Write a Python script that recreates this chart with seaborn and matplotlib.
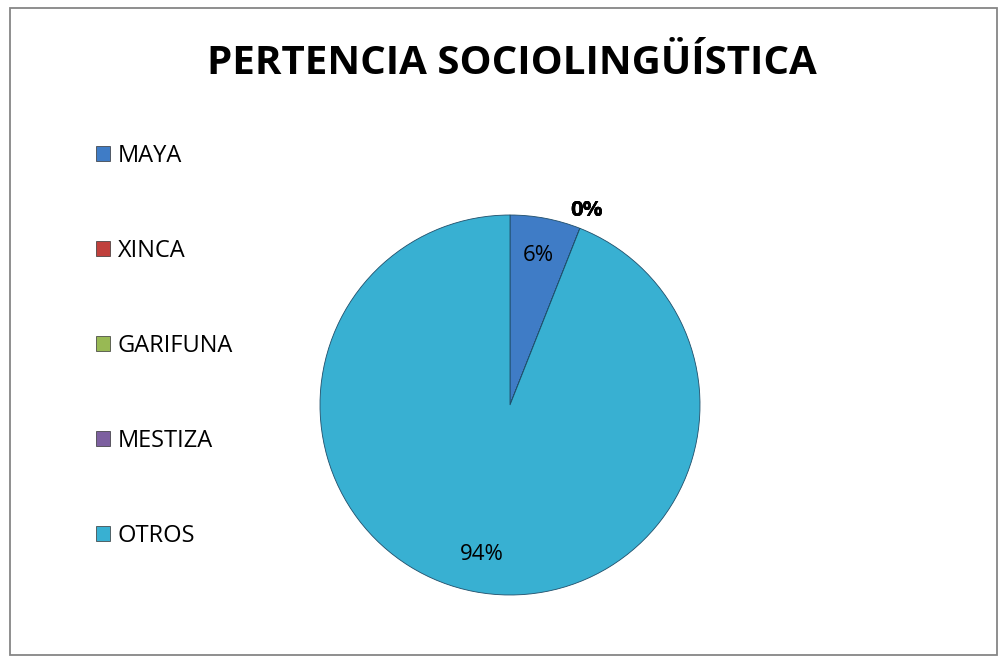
import numpy as np
import matplotlib
matplotlib.use("Agg")
import matplotlib.pyplot as plt
import seaborn as sns
from matplotlib.patches import Rectangle

# datos
categorias = ["MAYA", "XINCA", "GARIFUNA", "MESTIZA", "OTROS"]
valores = [6, 0, 0, 0, 94]
colores = ["#3F7CC6", "#C0403C", "#98B954", "#7D60A0", "#38B0D2"]
titulo = "PERTENCIA SOCIOLINGÜÍSTICA"

sns.set_theme(style="white")
plt.rcParams['font.family'] = ['Open Sans', 'DejaVu Sans']
plt.rcParams['text.color'] = 'black'

fig = plt.figure(figsize=(10.02, 6.59), dpi=100)
fig.patch.set_facecolor("white")

# marco del grafico
fig.add_artist(Rectangle((10 / 1002, 4 / 659), 987 / 1002, 647 / 659,
                         transform=fig.transFigure, fill=False,
                         edgecolor="#868686", linewidth=1.3))

fig.text(512 / 1002, 1 - 63 / 659, titulo, ha="center", va="center",
         fontsize=29, fontweight="bold", color="black")

# pie: centro (510, 405), radio 190 px
r = 190
ax = fig.add_axes([(510 - r) / 1002, 1 - (405 + r) / 659, 2 * r / 1002, 2 * r / 659])
wedges, textos, autotextos = ax.pie(
    valores, colors=colores, startangle=90, counterclock=False,
    autopct=lambda p: f"{p:.0f}%", pctdistance=0.8,
    wedgeprops=dict(edgecolor="#1f4e6a", linewidth=0.6),
    textprops=dict(fontsize=16, color="black"))
ax.set_xlim(-1, 1)
ax.set_ylim(-1, 1)
ax.set_aspect("equal")

# etiquetas de 0% fuera del pastel
for w, t, v in zip(wedges, autotextos, valores):
    if v == 0:
        ang = np.deg2rad((w.theta1 + w.theta2) / 2)
        t.set_position((1.09 * np.cos(ang), 1.1 * np.sin(ang)))
        t.set_fontweight("bold")

# leyenda
handles = [Rectangle((0, 0), 1, 1, facecolor=c, edgecolor="#333333", linewidth=0.5)
           for c in colores]
fig.legend(handles, categorias, loc="upper left",
           bbox_to_anchor=(75 / 1002, 1 - 123 / 659), frameon=False,
           fontsize=17, handlelength=0.6, handleheight=0.6,
           handletextpad=0.3, labelspacing=3.0, labelcolor="black")

fig.savefig("out.png", dpi=100)
